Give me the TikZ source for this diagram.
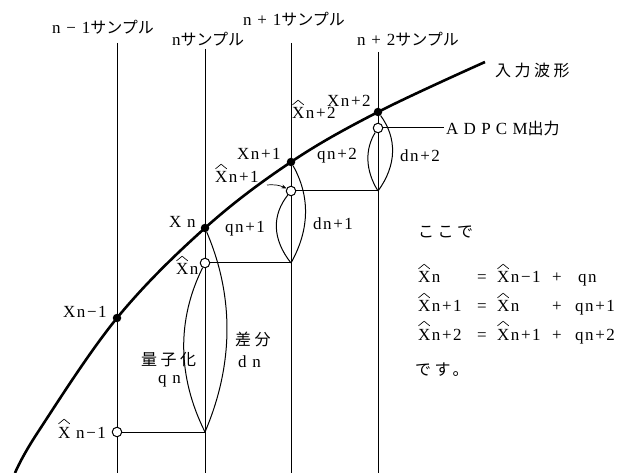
\documentclass[tikz,border=0pt]{standalone}
\usepackage{fontspec}
\setmainfont{Liberation Serif}[LetterSpace=9]
\newfontfamily\jp{Noto Sans CJK JP}
\newfontfamily\jpw{Noto Sans CJK JP}[LetterSpace=22]
\newfontfamily\wide{Liberation Serif}[LetterSpace=31]
\usetikzlibrary{arrows.meta}
\newcommand\hX{\rlap{\tikz[baseline=0pt,x=1pt,y=1pt,line width=0.65pt]\draw (0.6,14.2) -- (6.2,18.8) -- (11.8,14.2);}X}
\begin{document}
\begin{tikzpicture}[x=1pt,y=-1pt,
  t/.style={font=\fontsize{17}{19}\selectfont, inner sep=0pt, anchor=base west},
  jw/.style={font=\fontsize{16}{18}\selectfont\jpw, inner sep=0pt, anchor=west},
  dot/.style={circle, fill=black, inner sep=0pt, minimum size=8.5pt},
  hollow/.style={circle, draw, fill=white, line width=1pt, inner sep=0pt, minimum size=9.5pt},
  vline/.style={line width=1pt},
  arcl/.style={line width=1pt},
  wave/.style={line width=2.6pt},
]
\useasboundingbox (0,0) rectangle (643,473);
% vertical sample lines
\coordinate (t1) at (117,43);  \coordinate (e1) at (117,473);
\coordinate (t2) at (205,49);  \coordinate (e2) at (205,473);
\coordinate (t3) at (291,43);  \coordinate (e3) at (291,473);
\coordinate (t4) at (378,52);  \coordinate (e4) at (378,473);
\draw[vline] (t1) -- (e1);
\draw[vline] (t2) -- (e2);
\draw[vline] (t3) -- (e3);
\draw[vline] (t4) -- (e4);
% wave
\coordinate (w0) at (15,473);
\coordinate (w1) at (38,432);
\coordinate (pxm) at (117,318);
\coordinate (pxn) at (205,228);
\coordinate (pxn1) at (291,162);
\coordinate (pxn2) at (378,112);
\coordinate (wE) at (485,62);
\draw[wave] plot[smooth, tension=0.6] coordinates {(w0) (w1) (pxm) (pxn) (pxn1) (pxn2) (wE)};
% lens bottoms and free ends
\coordinate (qbn) at (205,432);
\coordinate (qbn1) at (291,263);
\coordinate (qbn2) at (378,191);
\coordinate (aend) at (444,128);
\coordinate (arrS) at (267,185);
% points
\node[dot] (xm) at (pxm) {};
\node[dot] (xn) at (pxn) {};
\node[dot] (xn1) at (pxn1) {};
\node[dot] (xn2) at (pxn2) {};
\node[hollow] (hm) at (117,432) {};
\node[hollow] (hn) at (205,263) {};
\node[hollow] (hn1) at (291,191) {};
\node[hollow] (hn2) at (378,128) {};
% horizontal lines
\draw[vline] (hm) -- (qbn);
\draw[vline] (hn) -- (qbn1);
\draw[vline] (hn1) -- (qbn2);
\draw[vline] (hn2) -- (aend);
% lenses
\draw[arcl] (hn) .. controls +(-28,56) and +(-28,-56) .. (qbn);
\draw[arcl] (xn) .. controls +(29,68) and +(29,-68) .. (qbn);
\draw[arcl] (hn1) .. controls +(-19,24) and +(-19,-24) .. (qbn1);
\draw[arcl] (xn1) .. controls +(19,34) and +(19,-34) .. (qbn1);
\draw[arcl] (hn2) .. controls +(-13,21) and +(-13,-21) .. (qbn2);
\draw[arcl] (xn2) .. controls +(19,26) and +(19,-26) .. (qbn2);
% arrow
\draw[line width=0.7pt, -{Stealth[length=5pt,width=4pt]}] (arrS) to[bend left=15] (hn1);
% sample labels
\node[t] (l1) at (52,34) {n − 1{\fontsize{16}{18}\jp サンプル}};
\node[t] (l2) at (172,46) {n{\fontsize{16}{18}\jp サンプル}};
\node[t] (l3) at (243,26) {n + 1{\fontsize{16}{18}\jp サンプル}};
\node[t] (l4) at (357,46) {n + 2{\fontsize{16}{18}\jp サンプル}};
\node[jw] (lw) at (495,70) {入力波形};
% point labels
\node[t] (lx2) at (327,107) {Xn+2};
\node[t] (lh2) at (292,119) {\hX n+2};
\node[t] (lx1) at (237,160) {Xn+1};
\node[t] (lh1) at (215,183) {\hX n+1};
\node[t] (lq2) at (317,160) {qn+2};
\node[t] (lq1) at (225,233) {qn+1};
\node[t] (ld1) at (313,230) {dn+1};
\node[t] (lxn) at (169,228) {X n};
\node[t] (lhn) at (176,275) {\hX n};
\node[t] (lxm) at (63,318) {Xn−1};
\node[t] (lhm) at (58,438) {\hX\ n−1};
\node[jw] (lqz) at (141,360) {量子化};
\node[t] (lqn) at (158,383) {q n};
\node[jw] (lsa) at (235,339) {差分};
\node[t] (ldn) at (238,367) {d n};
\node[t] (ld2) at (400,162) {dn+2};
\node[t] (lad) at (446,135) {{\wide ADPCM}{\fontsize{16}{18}\jp 出力}};
% equations
\node[jw] (e0) at (418,232) {ここで};
\node[t] (e1a) at (418,283) {\hX n};
\node[t] (e1b) at (477,283) {=};
\node[t] (e1c) at (497,283) {\hX n−1};
\node[t] (e1d) at (552,283) {+};
\node[t] (e1e) at (578,283) {qn};
\node[t] (e2a) at (418,312) {\hX n+1};
\node[t] (e2b) at (477,312) {=};
\node[t] (e2c) at (497,312) {\hX n};
\node[t] (e2d) at (552,312) {+};
\node[t] (e2e) at (575,312) {qn+1};
\node[t] (e3a) at (418,340) {\hX n+2};
\node[t] (e3b) at (477,340) {=};
\node[t] (e3c) at (497,340) {\hX n+1};
\node[t] (e3d) at (552,340) {+};
\node[t] (e3e) at (575,340) {qn+2};
\node[jw] (e4) at (415,370) {です。};
\end{tikzpicture}
\end{document}
